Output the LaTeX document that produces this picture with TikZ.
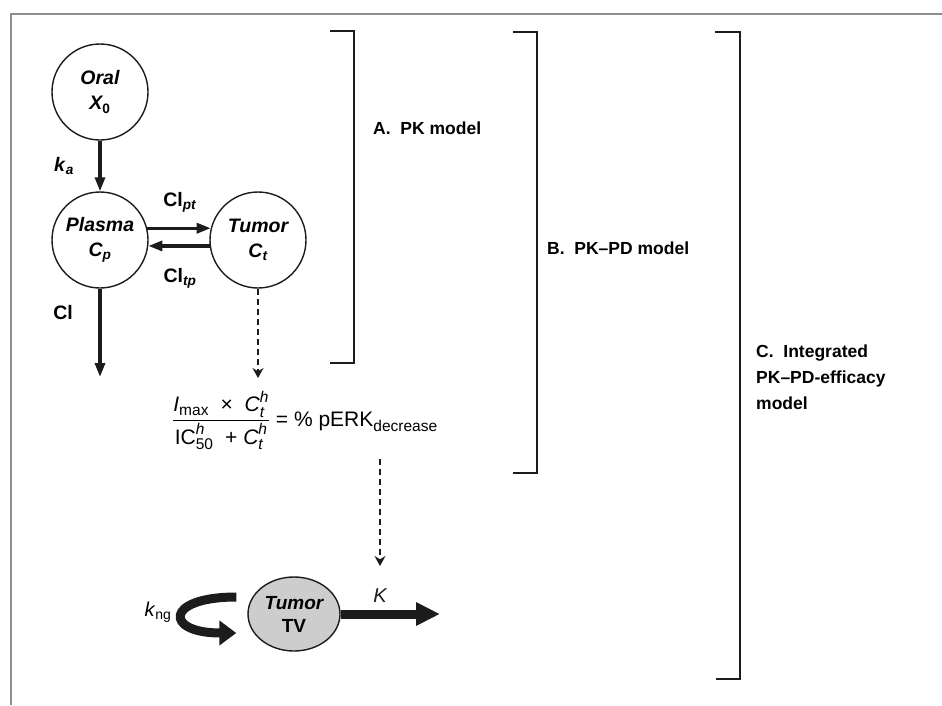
\documentclass[tikz,border=0pt]{standalone}
\usepackage{amsmath}
\usepackage{fontspec}
\setmainfont{Liberation Sans}
\usepackage{tikz}
\usetikzlibrary{arrows.meta,positioning,shapes.geometric}
\definecolor{pkink}{HTML}{1C1C1C}
\definecolor{pkgray}{HTML}{8E8E8E}
\definecolor{pkdots}{HTML}{CDCDCD}
\DeclareMathSizes{21}{21}{15.5}{12}
\tikzset{
  pkframe/.style={pkgray, line width=2pt},
  pkcomp/.style={circle, draw=pkink, line width=1.4pt, minimum size=96pt,
                 inner sep=0pt, align=center,
                 font=\fontsize{19.5}{25}\selectfont\bfseries\itshape},
  pktv/.style={ellipse, draw=pkink, fill=pkdots, line width=1.4pt,
               minimum width=92pt, minimum height=74pt, inner sep=0pt,
               align=center, font=\fontsize{19}{23}\selectfont\bfseries\itshape},
  pklbl/.style={font=\fontsize{19.5}{22}\selectfont\bfseries, inner sep=1pt},
  pkitl/.style={font=\fontsize{20}{22}\selectfont, inner sep=1pt},
  pkeq/.style={font=\fontsize{21}{24}\selectfont, inner sep=0pt},
  pkbrlbl/.style={font=\fontsize{17.5}{26}\selectfont\bfseries, align=left,
                  anchor=west, inner sep=0pt},
  pkbrack/.style={pkink, line width=2.4pt},
  pkflow/.style={pkink, line width=3.2pt, -{Triangle[length=14pt,width=10pt]}},
  pkdash/.style={pkink, line width=1.3pt, dash pattern=on 6pt off 4pt,
                 -{Stealth[length=10pt,width=11pt]}},
  pkbig/.style={pkink, line width=9pt, -{Triangle[length=24pt,width=22pt]}},
  pkloop/.style={pkink, line width=9pt, -{Triangle[length=17pt,width=24pt]}},
}

\begin{document}
\begin{tikzpicture}[x=1pt,y=-1pt]
  \useasboundingbox (0,0) rectangle (942,705);

  % frame
  \draw[pkframe] (11,705) -- (11,14) -- (942,14);

  % compartments
  \node[pkcomp] (oral) at (100,92) {Oral\\X\textsubscript{\textup{0}}};
  \node[pkcomp] (plasma) at (100,240) {Plasma\\C\textsubscript{p}};
  \node[pkcomp] (tumor) at (258,240) {Tumor\\C\textsubscript{t}};

  % pk transfers
  \coordinate (clend) at (100,377);
  \draw[pkflow] (oral) -- (plasma);
  \draw[pkflow] (plasma.14) -- (tumor.166);
  \draw[pkflow] (tumor.187) -- (plasma.-7);
  \draw[pkflow] (plasma) -- (clend);
  \node[pklbl] (ka) at (64,166) {\textit{k}\textsubscript{\textit{a}}};
  \node[pklbl] (clpt) at (180,202) {Cl\textsubscript{\textit{pt}}};
  \node[pklbl] (cltp) at (180,278) {Cl\textsubscript{\textit{tp}}};
  \node[pklbl] (cl) at (63,313) {Cl};

  % pd relation
  \coordinate (pdend) at (258,378);
  \draw[pkdash] (tumor) -- (pdend);
  \node[pkeq, anchor=base west, outer ysep=10pt] (eq) at (172,426)
       {\(\dfrac{\textit{I}_{\text{max}}\text{\ \ ×\ \ }\textit{C}_{\textit{t}}^{\textit{h}}}
                {\text{IC}_{\text{50}}^{\textit{h}}\text{\ \ +\ }\textit{C}_{\textit{t}}^{\textit{h}}}
          \text{\ = \% pERK}_{\text{decrease}}\)};

  % efficacy
  \node[pktv] (tumtv) at (294,614) {Tumor\\\textup{TV}};
  \coordinate (effin) at (380,566);
  \coordinate (kend) at (440,614);
  \draw[pkdash] (eq.south -| effin) -- (effin);
  \draw[pkbig] (tumtv) -- node[pkitl, above=6pt, pos=0.4] (klbl) {\textit{K}} (kend);
  \draw[pkloop] ([xshift=-11pt,yshift=17pt]tumtv.west)
    .. controls +(-72,0) and +(-72,0) .. ([xshift=-11pt,yshift=-19pt]tumtv.west);
  \node[pkitl] (kng) at (158,612) {\textit{k}\textsubscript{ng}};

  % model brackets
  \draw[pkbrack] (330,31) -- (354,31) -- (354,363) -- (330,363);
  \draw[pkbrack] (513,32) -- (537,32) -- (537,473) -- (513,473);
  \draw[pkbrack] (715,32) -- (740,32) -- (740,679) -- (716,679);
  \node[pkbrlbl] (lbla) at (373,128) {A.\ \ PK model};
  \node[pkbrlbl] (lblb) at (547,248) {B.\ \ PK–PD model};
  \node[pkbrlbl] (lblc) at (756,377) {C.\ \ Integrated\\PK–PD-efficacy\\model};

\end{tikzpicture}
\end{document}
